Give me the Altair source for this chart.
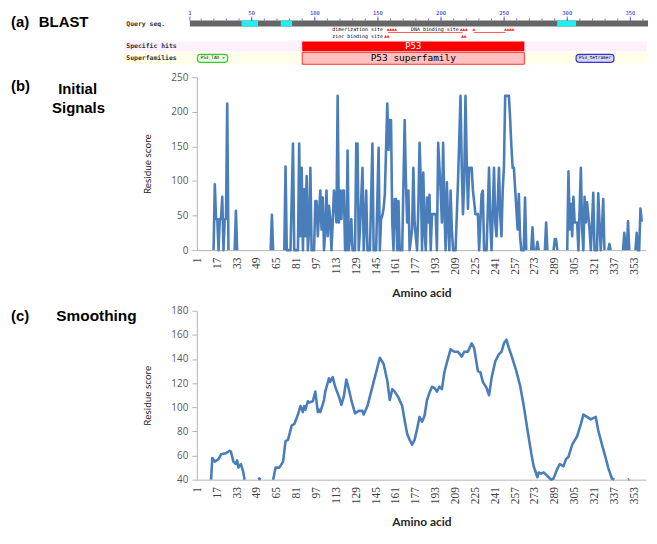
import altair as alt
import pandas as pd

# ---------------- data ----------------
# (a) BLAST conserved-domain graphic (positions in residues)
query_start = [1]
query_end = [364]
ruler_minor = list(range(10, 361, 10))
ruler_major = [1, 50, 100, 150, 200, 250, 300, 350]
lowc_start = [42, 73, 292]
lowc_end = [55, 82, 307]
hit_label = ["P53"]
hit_start = [90]
hit_end = [266]
sfam_label = ["P53_TAD \u00bb", "P53 superfamily", "P53_tetramer"]
sfam_start = [7, 90, 307]
sfam_end = [31, 266, 337]
site1_label = ["dimerization site", "DNA binding site"]
site1_pos = [154, 214]
site2_label = ["zinc binding site"]
site2_pos = [154]
dimer_sites = [158, 160, 162, 164]
dna_sites = [216, 218, 220, 226, 251, 253, 255, 257]
zinc_sites = [156, 158, 217, 219]
zinc_link = [158, 217]
dna_link = [226, 251]

# x tick labels of the two line charts
x_ticks = list(range(1, 354, 16))

# (b) Initial signals, drawn as separate segments (residue, score)
sig_segments = [
    ([14, 15, 16, 17, 18, 19, 20, 21, 22, 23, 24, 25, 26],
     [0, 95, 45, 45, 0, 45, 45, 77, 0, 45, 45, 212, 0]),
    ([31, 32, 33], [0, 57, 0]),
    ([60, 61, 62], [0, 51, 0]),
    ([71, 72, 73, 76, 78, 79, 82, 83, 84, 85, 86, 87, 88, 89, 90, 91, 92, 93, 95, 96,
      97, 98, 100, 101, 102, 103, 104, 105, 106, 107, 108, 109, 110, 111, 112, 113, 114, 115, 116, 117,
      118, 119, 120, 121, 122, 123, 124, 125, 126, 128, 129, 130, 131, 132, 134, 135, 136, 137, 138, 140,
      142, 143, 145, 147, 148, 149, 150, 151, 152, 154, 155, 156, 157, 158, 159, 160, 161, 162, 163, 164,
      166, 168, 169, 170, 171, 172, 174, 175, 176, 177, 178, 179, 180, 181, 182, 183, 184, 185, 186, 187,
      188, 189, 190, 193, 194, 195, 196, 197, 198, 199, 200, 201, 202, 203, 204, 205, 206, 207, 209, 211,
      213, 214, 215, 216, 217, 218, 219, 220, 222, 223, 224, 225, 227, 228, 229, 230, 231, 232, 234, 236,
      237, 238, 240, 241, 242, 244, 245, 246, 247, 248, 249, 252, 253, 254, 255, 256, 257, 258, 259, 260,
      261, 262, 264, 265, 266],
     [0, 121, 0, 0, 154, 0, 0, 154, 20, 119, 0, 88, 20, 107, 0, 30, 119, 0, 0, 71,
      71, 20, 86, 30, 76, 0, 30, 86, 20, 64, 45, 0, 40, 86, 67, 40, 223, 40, 86, 45,
      86, 86, 0, 0, 144, 0, 20, 45, 0, 0, 154, 154, 0, 30, 119, 0, 40, 86, 0, 0,
      154, 0, 0, 148, 0, 45, 50, 60, 80, 212, 145, 188, 188, 40, 0, 74, 74, 0, 71, 0,
      0, 188, 100, 40, 86, 0, 30, 119, 40, 19, 0, 60, 155, 100, 0, 112, 30, 0, 76, 40,
      80, 0, 52, 52, 0, 155, 120, 86, 40, 155, 60, 0, 98, 40, 0, 86, 30, 0, 0, 100,
      223, 120, 52, 100, 223, 130, 60, 119, 119, 86, 70, 52, 52, 0, 40, 81, 86, 0, 0, 119,
      40, 0, 119, 40, 20, 119, 50, 20, 86, 120, 223, 223, 190, 150, 119, 119, 90, 60, 30, 81,
      20, 0, 0, 76, 0]),
    ([270, 271, 272], [0, 33, 0]),
    ([274, 275, 276], [0, 12, 0]),
    ([281, 282, 283], [0, 40, 0]),
    ([288, 289, 290, 291], [0, 16, 16, 0]),
    ([299, 300, 301, 302, 303, 304, 305, 307, 308, 309, 310, 311, 312, 313, 314, 315, 317, 318,
      319, 320, 321, 323, 324, 325, 326, 327, 328, 329],
     [0, 114, 30, 67, 20, 77, 40, 40, 0, 60, 119, 30, 0, 77, 40, 69, 30, 0,
      40, 83, 0, 0, 82, 40, 0, 30, 74, 0]),
    ([332, 333, 334], [0, 9, 0]),
    ([344, 345, 346], [0, 25, 0]),
    ([347, 348, 349], [0, 42, 0]),
    ([354, 355, 356, 357, 358, 359, 360], [0, 25, 0, 0, 60, 43, 43]),
]

# (c) Smoothing, drawn as separate segments (residue, score)
smooth_segments = [
    ([12, 13, 15, 18, 20, 24, 27, 28, 30, 32, 33, 34, 36, 38, 39],
     [40, 58, 55, 57, 61, 62, 64, 63, 55, 53, 56, 50, 53, 46, 40]),
    ([50, 51, 52], [40, 41, 40]),
    ([62, 64, 67, 70, 72, 74, 77, 79, 82, 84, 86, 87, 88, 90, 91, 94, 95, 96, 98, 99,
      100, 103, 104, 107, 108, 110, 112, 115, 117, 119, 121, 123, 125, 128, 131, 134, 135, 138, 140, 143,
      146, 148, 151, 154, 156, 158, 160, 163, 166, 168, 170, 172, 174, 176, 178, 180, 182, 184, 186, 188,
      190, 192, 194, 196, 198, 200, 202, 205, 208, 211, 214, 216, 219, 222, 224, 227, 229, 231, 234, 236,
      238, 241, 244, 246, 248, 250, 252, 255, 258, 261, 264, 267, 270, 272, 275, 276, 278, 280, 283, 286,
      288, 291, 293, 296, 298, 300, 303, 307, 310, 312, 315, 318, 322, 324, 327, 330, 332, 335, 337],
     [40, 50, 50, 55, 72, 73, 85, 86, 94, 101, 96, 101, 98, 105, 104, 105, 109, 113, 96, 98,
      96, 106, 113, 124, 121, 125, 117, 109, 102, 109, 123, 115, 106, 95, 97, 97, 94, 101, 109, 121,
      133, 141, 136, 122, 106, 115, 113, 108, 101, 89, 78, 73, 69, 73, 82, 92, 88, 93, 106, 112,
      117, 116, 113, 117, 115, 129, 137, 148, 146, 146, 142, 146, 146, 153, 149, 130, 129, 121, 116, 110,
      124, 138, 144, 146, 153, 156, 149, 140, 130, 118, 101, 81, 62, 51, 42, 46, 45, 46, 43, 40,
      41, 49, 53, 51, 57, 59, 69, 76, 86, 94, 92, 90, 92, 81, 69, 58, 50, 41, 40]),
    ([348, 349], [40, 40.5]),
]


def seg_frame(segs):
    rows = []
    for i, (rs, vs) in enumerate(segs):
        for r, v in zip(rs, vs):
            rows.append({"seg": i, "res": r, "score": v})
    return pd.DataFrame(rows)


sig_df = seg_frame(sig_segments)
smooth_df = seg_frame(smooth_segments)

# ---------------- styles ----------------
LINE = "#4A7EBB"
AXC = "#B4B4B4"
W = 452
PX_PER_RES = 1.27
B0 = 1 + 7 / PX_PER_RES
bscale = alt.Scale(domain=[B0, B0 + W / PX_PER_RES], nice=False, zero=False)
MONO = "DejaVu Sans Mono"


def one(text):
    return pd.DataFrame({"t": [text]})


def label(text, x, y, size=15, align="left"):
    return alt.Chart(one(text)).mark_text(
        font="Liberation Sans", fontSize=size, fontWeight="bold", color="#000000",
        align=align, baseline="middle").encode(text="t:N", x=alt.value(x), y=alt.value(y))


# ---------------- (a) BLAST ----------------
bg_df = pd.DataFrame({"row": ["hits", "sfam"]})
bg_hits = alt.Chart(bg_df.iloc[[0]]).mark_rect(color="#FFF0FF").encode(
    x=alt.value(-74), x2=alt.value(W + 1), y=alt.value(30), y2=alt.value(40))
bg_sfam = alt.Chart(bg_df.iloc[[1]]).mark_rect(color="#FFFFEA").encode(
    x=alt.value(-74), x2=alt.value(W + 1), y=alt.value(41), y2=alt.value(53))

q_df = pd.DataFrame({"start": query_start, "end": query_end})
qbar = alt.Chart(q_df).mark_rect(color="#666666").encode(
    x=alt.X("start:Q", scale=bscale, axis=None), x2="end:Q",
    y=alt.value(9), y2=alt.value(15))
lc_df = pd.DataFrame({"start": lowc_start, "end": lowc_end})
lcbar = alt.Chart(lc_df).mark_rect(color="#22EEF2").encode(
    x=alt.X("start:Q", scale=bscale, axis=None), x2="end:Q",
    y=alt.value(9), y2=alt.value(15))

minor_df = pd.DataFrame({"pos": ruler_minor})
minor_t = alt.Chart(minor_df).mark_rule(color="#4444FF", strokeWidth=0.8).encode(
    x=alt.X("pos:Q", scale=bscale, axis=None), y=alt.value(7), y2=alt.value(9))
major_df = pd.DataFrame({"pos": ruler_major, "lab": [str(v) for v in ruler_major]})
major_t = alt.Chart(major_df).mark_rule(color="#4444FF", strokeWidth=0.8).encode(
    x=alt.X("pos:Q", scale=bscale, axis=None), y=alt.value(5), y2=alt.value(9))
major_l = alt.Chart(major_df).mark_text(
    font=MONO, fontSize=5.5, color="#2222CC", baseline="top", align="center").encode(
    x=alt.X("pos:Q", scale=bscale, axis=None), y=alt.value(-1), text="lab:N")

s1_df = pd.DataFrame({"pos": site1_pos, "lab": site1_label})
s1_t = alt.Chart(s1_df).mark_text(font=MONO, fontSize=5, color="#000000",
                                  align="right", baseline="middle").encode(
    x=alt.X("pos:Q", scale=bscale, axis=None), y=alt.value(18), text="lab:N")
s2_df = pd.DataFrame({"pos": site2_pos, "lab": site2_label})
s2_t = alt.Chart(s2_df).mark_text(font=MONO, fontSize=5, color="#000000",
                                  align="right", baseline="middle").encode(
    x=alt.X("pos:Q", scale=bscale, axis=None), y=alt.value(25), text="lab:N")
tri1_df = pd.DataFrame({"pos": dimer_sites + dna_sites})
tri1 = alt.Chart(tri1_df).mark_point(shape="triangle-up", filled=True, size=10,
                                     color="#FF2020", opacity=1).encode(
    x=alt.X("pos:Q", scale=bscale, axis=None), y=alt.value(18))
tri2_df = pd.DataFrame({"pos": zinc_sites})
tri2 = alt.Chart(tri2_df).mark_point(shape="triangle-up", filled=True, size=10,
                                     color="#FF2020", opacity=1).encode(
    x=alt.X("pos:Q", scale=bscale, axis=None), y=alt.value(25))
link_df = pd.DataFrame({"a": [zinc_link[0], dna_link[0]], "b": [zinc_link[1], dna_link[1]]})
links = alt.Chart(link_df).mark_rule(color="#FF3030", strokeWidth=0.8).encode(
    x=alt.X("a:Q", scale=bscale, axis=None), x2="b:Q", y=alt.value(21))

hit_df = pd.DataFrame({"start": hit_start, "end": hit_end, "lab": hit_label})
hit_df["mid"] = (hit_df["start"] + hit_df["end"]) / 2
hits = alt.Chart(hit_df).mark_rect(color="#FF0000").encode(
    x=alt.X("start:Q", scale=bscale, axis=None), x2="end:Q",
    y=alt.value(30), y2=alt.value(40))
hits_t = alt.Chart(hit_df).mark_text(font=MONO, fontSize=9, color="#FFFFFF").encode(
    x=alt.X("mid:Q", scale=bscale, axis=None), y=alt.value(35), text="lab:N")

sf_df = pd.DataFrame({"start": sfam_start, "end": sfam_end, "lab": sfam_label})
sf_df["mid"] = (sf_df["start"] + sf_df["end"]) / 2
sf_main = alt.Chart(sf_df.iloc[[1]]).mark_rect(fill="#FFC0C0", stroke="#FF3030", strokeWidth=1).encode(
    x=alt.X("start:Q", scale=bscale, axis=None), x2="end:Q",
    y=alt.value(41), y2=alt.value(53))
sf_main_t = alt.Chart(sf_df.iloc[[1]]).mark_text(font=MONO, fontSize=9.5, color="#000000").encode(
    x=alt.X("mid:Q", scale=bscale, axis=None), y=alt.value(47), text="lab:N")
sf_tad = alt.Chart(sf_df.iloc[[0]]).mark_rect(fill="#E8FFE8", stroke="#33CC33", strokeWidth=1.2,
                                             cornerRadius=3).encode(
    x=alt.X("start:Q", scale=bscale, axis=None), x2="end:Q",
    y=alt.value(43), y2=alt.value(51))
sf_tet = alt.Chart(sf_df.iloc[[2]]).mark_rect(fill="#D8D8FF", stroke="#3333DD", strokeWidth=1.2,
                                             cornerRadius=3).encode(
    x=alt.X("start:Q", scale=bscale, axis=None), x2="end:Q",
    y=alt.value(43), y2=alt.value(51))
sf_small_t = alt.Chart(sf_df.iloc[[0, 2]]).mark_text(font=MONO, fontSize=4.5, color="#000000").encode(
    x=alt.X("mid:Q", scale=bscale, axis=None), y=alt.value(47), text="lab:N")

row_df = pd.DataFrame({"lab": ["Query seq.", "Specific hits", "Superfamilies"],
                       "yy": [12, 35, 47]})
row_t = alt.Chart(row_df).mark_text(font=MONO, fontSize=6.5, fontWeight="bold", color="#333333",
                                    align="left", baseline="middle").encode(
    x=alt.value(-71), y=alt.Y("yy:Q", scale=alt.Scale(domain=[0, 53], range=[0, 53]), axis=None),
    text="lab:N")

blast = alt.layer(
    bg_hits, bg_sfam, qbar, lcbar, minor_t, major_t, major_l, s1_t, s2_t, links, tri1, tri2,
    hits, hits_t, sf_main, sf_main_t, sf_tad, sf_tet, sf_small_t, row_t,
    label("(a)", -187, 10), label("BLAST", -159, 10),
).properties(width=W, height=53)


# ---------------- (b) and (c) line charts ----------------
def x_enc():
    return alt.X("res:Q", scale=alt.Scale(domain=[0.5, 362.5], nice=False, zero=False),
                 axis=alt.Axis(values=x_ticks, labelAngle=270, ticks=False, grid=False,
                               domainColor=AXC, labelFont="Liberation Serif", labelFontSize=11.5,
                               labelColor="#404040", labelPadding=7, labelOverlap=False,
                               labelFlush=False, title="Amino acid", titleFont="Lato",
                               titleFontSize=12, titleFontWeight="bold", titleColor="#262626",
                               titlePadding=13))


def y_enc(lo, hi, step):
    return alt.Y("score:Q", scale=alt.Scale(domain=[lo, hi], nice=False, zero=False),
                 axis=alt.Axis(values=list(range(lo, hi + 1, step)), grid=False, tickSize=5,
                               tickColor=AXC, domainColor=AXC, labelFont="Open Sans",
                               labelFontSize=10, labelColor="#595959", labelPadding=4,
                               title="Residue score", titleFont="Lato", titleFontSize=10,
                               titleFontWeight="normal", titleColor="#262626", titlePadding=18))


line_b = alt.Chart(sig_df).mark_line(color=LINE, strokeWidth=2.6, strokeJoin="round").encode(
    x=x_enc(), y=y_enc(0, 250, 50), detail="seg:N")
chart_b = alt.layer(
    line_b,
    label("(b)", -187, 9), label("Initial", -120, 12, align="center"),
    label("Signals", -119, 31, align="center"),
).properties(width=W, height=174)

line_c = alt.Chart(smooth_df).mark_line(color=LINE, strokeWidth=2.6, strokeJoin="round").encode(
    x=x_enc(), y=y_enc(40, 180, 20), detail="seg:N")
chart_c = alt.layer(
    line_c,
    label("(c)", -187, 5), label("Smoothing", -101, 5, size=15.5, align="center"),
).properties(width=W, height=170)

chart = alt.vconcat(blast, chart_b, chart_c, spacing=6).resolve_scale(
    x="independent", y="independent").properties(
    padding={"left": 2, "top": 0, "right": 0, "bottom": 0}).configure_view(stroke="transparent")

chart.save("out.html", embed_options={"renderer": "svg", "actions": False})
